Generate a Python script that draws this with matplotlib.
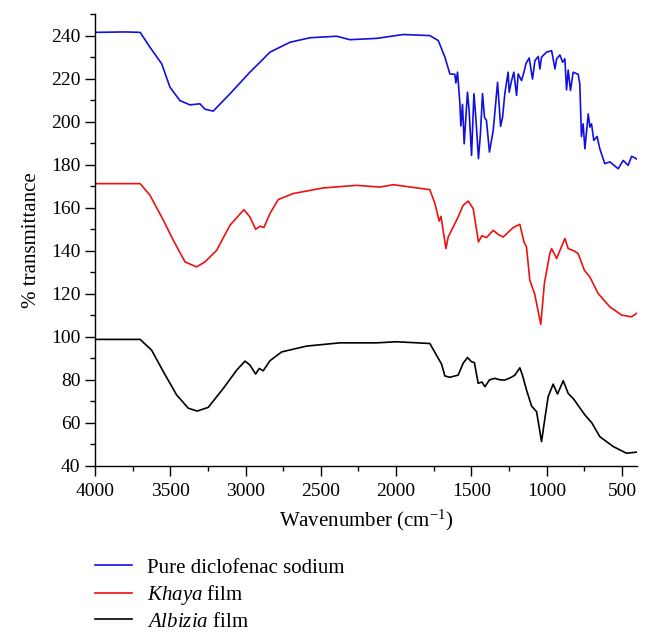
import matplotlib
matplotlib.use('Agg')
import matplotlib.pyplot as plt
from matplotlib.ticker import MultipleLocator

plt.rcParams['font.family'] = ['Liberation Serif', 'DejaVu Serif']
plt.rcParams['mathtext.fontset'] = 'custom'
plt.rcParams['mathtext.rm'] = 'Liberation Serif'
plt.rcParams['mathtext.it'] = 'Liberation Serif:italic'

# Pure diclofenac sodium (blue)
blue_x = [4000, 3800, 3700, 3635, 3557, 3502, 3436, 3369, 3303, 3270, 3215, 3104, 2971, 2893,
          2838, 2705, 2572, 2395, 2307, 2130, 1953, 1776, 1720, 1676, 1643, 1610, 1603, 1592,
          1576, 1570, 1559, 1548, 1526, 1515, 1499, 1483, 1470, 1453, 1440, 1426, 1413, 1400,
          1380, 1355, 1326, 1306, 1293, 1278, 1256, 1249, 1233, 1218, 1200, 1189, 1167, 1151,
          1138, 1116, 1094, 1078, 1056, 1045, 1034, 1001, 967, 945, 934, 912, 894, 879, 868,
          857, 842, 824, 791, 780, 769, 758, 746, 724, 713, 702, 687, 665, 647, 614, 580, 525,
          492, 459, 436, 414, 400]
blue_y = [241.5, 241.7, 241.5, 234.6, 226.9, 216.0, 209.8, 207.8, 208.3, 205.8, 204.9, 212.9,
          223.0, 228.4, 232.3, 236.9, 239.0, 239.7, 238.1, 238.7, 240.5, 240.0, 237.7, 230.0,
          222.2, 222.0, 218.0, 223.0, 208.0, 198.0, 208.0, 189.7, 213.7, 205.2, 184.3, 213.0,
          201.3, 182.8, 194.3, 213.0, 202.0, 200.6, 185.9, 195.9, 218.3, 197.8, 202.0, 213.0,
          223.0, 213.7, 219.1, 223.0, 212.2, 222.2, 219.1, 223.0, 226.9, 229.6, 219.8, 228.4,
          230.3, 224.5, 230.0, 232.3, 233.0, 224.5, 229.2, 231.0, 227.6, 229.2, 214.8, 224.0,
          214.5, 223.0, 222.0, 217.6, 193.1, 199.0, 187.4, 203.6, 197.5, 199.0, 191.3, 193.1,
          187.4, 180.5, 181.3, 178.1, 182.0, 179.7, 183.9, 183.2, 182.5]

# Khaya film (red)
red_x = [4000, 3700, 3635, 3546, 3480, 3402, 3325, 3270, 3192, 3104, 3011, 2971, 2933, 2904,
         2878, 2838, 2783, 2683, 2484, 2262, 2108, 2019, 1776, 1742, 1714, 1702, 1669, 1654,
         1588, 1555, 1521, 1488, 1453, 1430, 1400, 1355, 1320, 1289, 1222, 1178, 1151, 1134,
         1112, 1080, 1039, 1015, 979, 967, 934, 879, 857, 820, 791, 750, 713, 658, 580, 502,
         436, 403]
red_y = [171.2, 171.2, 165.8, 154.2, 144.9, 134.8, 132.5, 134.8, 140.2, 151.8, 159.1, 155.7,
         150.0, 151.4, 150.8, 157.3, 163.8, 166.6, 169.2, 170.4, 169.6, 170.7, 168.4, 161.9,
         153.8, 156.0, 141.0, 146.4, 155.7, 161.1, 163.1, 159.6, 144.1, 147.0, 146.1, 149.5,
         147.5, 146.4, 150.8, 152.3, 144.1, 141.8, 126.3, 120.0, 105.8, 125.0, 138.7, 141.0,
         136.4, 145.7, 141.0, 140.0, 138.7, 131.0, 127.8, 120.1, 113.9, 110.1, 109.3, 110.9]

# Albizia film (black)
black_x = [4000, 3700, 3624, 3546, 3458, 3380, 3321, 3248, 3148, 3059, 3004, 2971, 2933, 2909,
           2883, 2838, 2760, 2594, 2373, 2130, 1997, 1776, 1720, 1698, 1676, 1643, 1588, 1555,
           1526, 1499, 1480, 1455, 1430, 1410, 1380, 1344, 1310, 1278, 1240, 1211, 1178, 1160,
           1134, 1100, 1067, 1034, 1010, 990, 957, 928, 890, 857, 820, 790, 746, 700, 647, 558,
           470, 403]
black_y = [98.8, 98.8, 93.8, 83.8, 73.0, 66.8, 65.5, 67.2, 76.0, 84.5, 88.7, 86.9, 82.7, 85.3,
           84.2, 88.9, 93.0, 95.7, 97.2, 97.2, 97.7, 96.9, 90.0, 87.3, 81.8, 81.2, 82.2, 87.7,
           90.4, 88.4, 88.0, 78.4, 79.0, 76.8, 80.0, 80.7, 80.0, 79.9, 81.0, 82.2, 85.6, 82.0,
           75.3, 67.8, 65.2, 51.3, 63.0, 72.2, 78.0, 73.4, 79.6, 73.7, 71.0, 68.0, 63.7, 60.0,
           53.6, 49.0, 45.9, 46.4]

labels = ['Pure diclofenac sodium', r'$\it{Khaya}$ film', r'$\it{Albizia}$ film']

fig = plt.figure(figsize=(6.52, 6.40), dpi=100)
ax = fig.add_axes([0.1457, 0.272, 0.8313, 0.706])

l1, = ax.plot(blue_x, blue_y, color='#1010e0', lw=1.2)
l2, = ax.plot(red_x, red_y, color='#ee1111', lw=1.2)
l3, = ax.plot(black_x, black_y, color='black', lw=1.2)

ax.set_xlim(4000, 400)
ax.set_ylim(40, 250)
ax.xaxis.set_major_locator(MultipleLocator(500))
ax.xaxis.set_minor_locator(MultipleLocator(250))
ax.yaxis.set_minor_locator(MultipleLocator(10))
ax.set_yticks(range(40, 241, 20))
ax.spines['top'].set_visible(False)
ax.spines['right'].set_visible(False)
for s in ['left', 'bottom']:
    ax.spines[s].set_linewidth(1.0)
ax.tick_params(which='major', direction='out', length=7, width=1.0, labelsize=14)
ax.tick_params(which='minor', direction='out', length=3.5, width=1.0)
ax.tick_params(axis='x', pad=5)

ax.set_xlabel('Wavenumber (cm$^{-1}$)', fontsize=15, labelpad=6)
ax.set_ylabel('% transmittance', fontsize=15, labelpad=7)

fig.legend([l1, l2, l3], labels, loc='upper left', bbox_to_anchor=(0.133, 0.141),
           frameon=False, fontsize=15, handlelength=1.75, handletextpad=0.72,
           labelspacing=0.25, borderaxespad=0)

fig.savefig('out.png', dpi=100)
